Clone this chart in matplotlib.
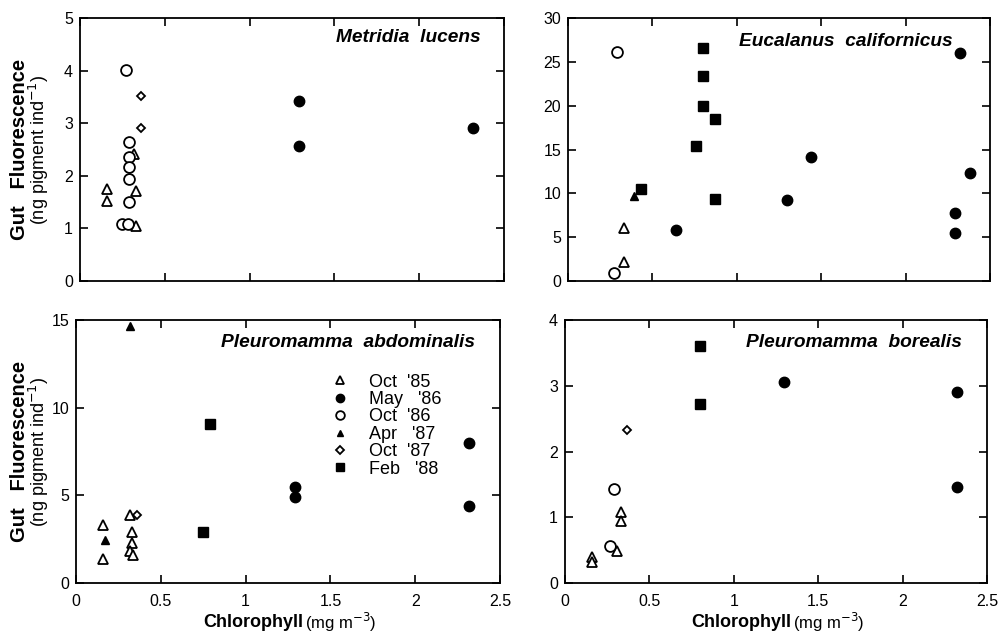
import matplotlib
matplotlib.use("Agg")
import matplotlib.pyplot as plt

plt.rcParams['font.family'] = ['Liberation Sans', 'DejaVu Sans']

# ── Data (chlorophyll x, gut fluorescence y) per cruise ───────────────────────
cruises = ["Oct  '85", "May   '86", "Oct  '86", "Apr   '87", "Oct  '87", "Feb   '88"]

# Metridia lucens
ml_oct85_x = [0.16, 0.16, 0.32, 0.33, 0.33]
ml_oct85_y = [1.74, 1.52, 2.41, 1.72, 1.05]
ml_may86_x = [1.29, 1.29, 2.32]
ml_may86_y = [3.42, 2.57, 2.90]
ml_oct86_x = [0.27, 0.29, 0.29, 0.29, 0.29, 0.29, 0.245, 0.285]
ml_oct86_y = [4.01, 2.64, 2.35, 2.16, 1.93, 1.51, 1.08, 1.08]
ml_oct87_x = [0.36, 0.36]
ml_oct87_y = [3.51, 2.90]

# Eucalanus californicus
ec_oct85_x = [0.33, 0.33]
ec_oct85_y = [6.1, 2.2]
ec_may86_x = [0.64, 1.30, 1.44, 2.32, 2.38, 2.29, 2.29]
ec_may86_y = [5.8, 9.2, 14.1, 26.0, 12.35, 7.8, 5.44]
ec_oct86_x = [0.29, 0.27]
ec_oct86_y = [26.1, 0.95]
ec_apr87_x = [0.39]
ec_apr87_y = [9.7]
ec_feb88_x = [0.43, 0.76, 0.80, 0.80, 0.80, 0.87, 0.87]
ec_feb88_y = [10.5, 15.4, 26.6, 23.4, 19.95, 18.5, 9.4]

# Pleuromamma abdominalis
pa_oct85_x = [0.157, 0.157, 0.318, 0.33, 0.33, 0.32, 0.335]
pa_oct85_y = [3.31, 1.35, 3.88, 2.93, 2.27, 1.85, 1.62]
pa_may86_x = [1.29, 1.29, 2.32, 2.32]
pa_may86_y = [5.5, 4.89, 7.97, 4.39]
pa_apr87_x = [0.32, 0.17]
pa_apr87_y = [14.66, 2.45]
pa_oct87_x = [0.36]
pa_oct87_y = [3.88]
pa_feb88_x = [0.79, 0.75]
pa_feb88_y = [9.07, 2.93]

# Pleuromamma borealis
pb_oct85_x = [0.33, 0.33, 0.306, 0.158, 0.158]
pb_oct85_y = [1.08, 0.95, 0.48, 0.39, 0.32]
pb_may86_x = [1.30, 2.32, 2.32]
pb_may86_y = [3.06, 2.90, 1.46]
pb_oct86_x = [0.29, 0.267]
pb_oct86_y = [1.43, 0.56]
pb_oct87_x = [0.37]
pb_oct87_y = [2.33]
pb_feb88_x = [0.80, 0.80]
pb_feb88_y = [3.60, 2.72]

# ── Marker styles per cruise ──────────────────────────────────────────────────
styles = {
    "oct85": dict(marker="^", ms=7.0, mfc="white", mec="black", mew=1.3),
    "may86": dict(marker="o", ms=7.5, mfc="black", mec="black", mew=1.0),
    "oct86": dict(marker="o", ms=7.8, mfc="white", mec="black", mew=1.3),
    "apr87": dict(marker="^", ms=5.5, mfc="black", mec="black", mew=1.0),
    "oct87": dict(marker="D", ms=4.5, mfc="white", mec="black", mew=1.3),
    "feb88": dict(marker="s", ms=6.5, mfc="black", mec="black", mew=1.0),
}

W, H = 1004, 634
fig = plt.figure(figsize=(W / 100, H / 100), dpi=100)


def make_ax(l, r, t, b):
    return fig.add_axes([l / W, (H - b) / H, (r - l) / W, (b - t) / H])


def style_ax(ax, ymax, ystep, species, tx, ty, bottom_labels):
    ax.set_xlim(0, 2.5)
    ax.set_ylim(0, ymax)
    ax.set_xticks([0, 0.5, 1, 1.5, 2, 2.5])
    ax.set_xticklabels(["0", "0.5", "1", "1.5", "2", "2.5"] if bottom_labels else [])
    yt = list(range(0, ymax + 1, ystep))
    ax.set_yticks(yt)
    ax.set_yticklabels([str(v) for v in yt])
    ax.tick_params(direction="in", length=6, width=1.2, top=True, right=True,
                   labelsize=11.5, pad=8)
    ax.tick_params(axis="y", pad=5)
    for s in ax.spines.values():
        s.set_linewidth(1.3)
    ax.text(tx, ty, species, transform=ax.transAxes, ha="right", va="center",
            fontsize=13.8, style="italic", fontweight="bold")


def plot_set(ax, key, xs, ys, label=None):
    ax.plot(xs, ys, ls="none", label=label, clip_on=False, **styles[key])


# ── Top-left: Metridia lucens ─────────────────────────────────────────────────
ax1 = make_ax(80, 504, 18, 281)
plot_set(ax1, "oct85", ml_oct85_x, ml_oct85_y)
plot_set(ax1, "may86", ml_may86_x, ml_may86_y)
plot_set(ax1, "oct86", ml_oct86_x, ml_oct86_y)
plot_set(ax1, "oct87", ml_oct87_x, ml_oct87_y)
style_ax(ax1, 5, 1, "Metridia  lucens", 0.946, 0.924, False)

# ── Top-right: Eucalanus californicus ─────────────────────────────────────────
ax2 = make_ax(568, 990, 18, 281)
plot_set(ax2, "oct85", ec_oct85_x, ec_oct85_y)
plot_set(ax2, "may86", ec_may86_x, ec_may86_y)
plot_set(ax2, "oct86", ec_oct86_x, ec_oct86_y)
plot_set(ax2, "apr87", ec_apr87_x, ec_apr87_y)
plot_set(ax2, "feb88", ec_feb88_x, ec_feb88_y)
style_ax(ax2, 30, 5, "Eucalanus  californicus", 0.912, 0.909, False)

# ── Bottom-left: Pleuromamma abdominalis (with legend) ────────────────────────
ax3 = make_ax(76, 500, 320, 583)
plot_set(ax3, "oct85", pa_oct85_x, pa_oct85_y)
plot_set(ax3, "may86", pa_may86_x, pa_may86_y)
plot_set(ax3, "apr87", pa_apr87_x, pa_apr87_y)
plot_set(ax3, "oct87", pa_oct87_x, pa_oct87_y)
plot_set(ax3, "feb88", pa_feb88_x, pa_feb88_y)
style_ax(ax3, 15, 5, "Pleuromamma  abdominalis", 0.941, 0.913, True)

handles = []
for key, lab in zip(["oct85", "may86", "oct86", "apr87", "oct87", "feb88"], cruises):
    st = dict(styles[key])
    st["ms"] = st["ms"] * 0.8
    h, = ax3.plot([], [], ls="none", label=lab, **st)
    handles.append(h)
ax3.legend(handles=handles, loc="upper left", bbox_to_anchor=(0.58, 0.83),
           frameon=False, fontsize=13, handletextpad=1.1, labelspacing=0.02,
           borderpad=0, handlelength=1.0)

# ── Bottom-right: Pleuromamma borealis ────────────────────────────────────────
ax4 = make_ax(565, 987, 320, 583)
plot_set(ax4, "oct85", pb_oct85_x, pb_oct85_y)
plot_set(ax4, "may86", pb_may86_x, pb_may86_y)
plot_set(ax4, "oct86", pb_oct86_x, pb_oct86_y)
plot_set(ax4, "oct87", pb_oct87_x, pb_oct87_y)
plot_set(ax4, "feb88", pb_feb88_x, pb_feb88_y)
style_ax(ax4, 4, 1, "Pleuromamma  borealis", 0.941, 0.913, True)

# ── Axis titles ───────────────────────────────────────────────────────────────
for ax, dx in ((ax1, 0.0), (ax3, 0.01)):
    ax.text(-0.143 + dx, 0.5, "Gut   Fluorescence", transform=ax.transAxes, rotation=90,
            ha="center", va="center", fontsize=14.5, fontweight="bold")
    ax.text(-0.097 + dx, 0.5, "(ng pigment ind$^{-1}$)", transform=ax.transAxes, rotation=90,
            ha="center", va="center", fontsize=13)

for ax in (ax3, ax4):
    ax.text(0.535, -0.15, "Chlorophyll", transform=ax.transAxes, ha="right",
            va="center", fontsize=13, fontweight="bold")
    ax.text(0.54, -0.15, "(mg m$^{-3}$)", transform=ax.transAxes, ha="left",
            va="center", fontsize=12)

fig.savefig("out.png", dpi=100)
